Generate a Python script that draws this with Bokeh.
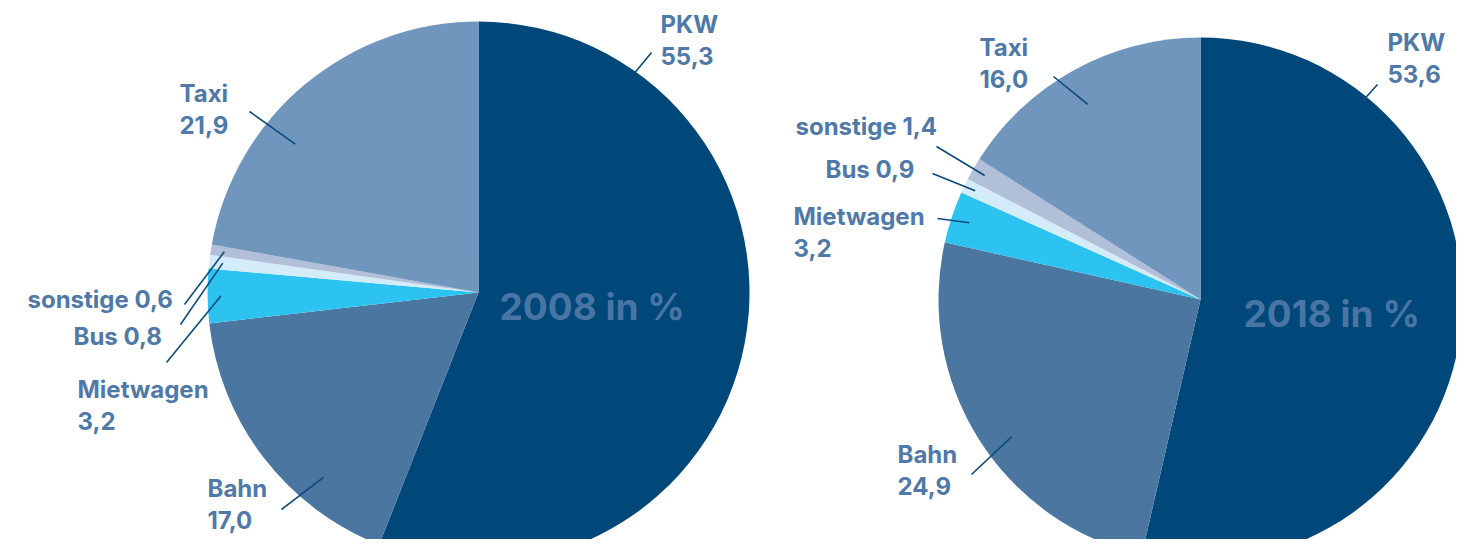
import numpy as np
from bokeh.plotting import figure
from bokeh.models import Range1d, ColumnDataSource
from bokeh.core.properties import value
from bokeh.embed import file_html
from bokeh.resources import INLINE

# ---------------- data ----------------
categories = ["PKW", "Bahn", "Mietwagen", "Bus", "sonstige", "Taxi"]
values_2008 = [55.3, 17.0, 3.2, 0.8, 0.6, 21.9]
values_2018 = [53.6, 24.9, 3.2, 0.9, 1.4, 16.0]
titles = ["2008 in %", "2018 in %"]
colors = ["#00487a", "#4a76a0", "#2dc3f1", "#d4ecf9", "#b2bfd8", "#7096bd"]

# ---------------- layout ----------------
W, H = 1456, 539
IMG_H = 555
LABEL_COLOR = "#4e79a8"
LEADER_COLOR = "#0b4a7c"
FONT = "Inter"
LINE_H = 31
LBL_SIZE = 24
TTL_SIZE = 37
BASE_FIX = 0.36  # renderer places alphabetic baseline lower; compensate (fraction of font size)

def Y(y_img):
    return IMG_H - y_img

pies = [
    dict(values=values_2008, cx=478, cy=292, r=271, title=titles[0], title_pos=(499, 319),
         labels={
             "PKW":       dict(pos=(660, 33), two=True, outer=(651, 52), ang=35, frac=0.9),
             "Taxi":      dict(pos=(179, 102), two=True, outer=(249, 111), ang=309, frac=0.87),
             "sonstige":  dict(pos=(27, 308), two=False, outer=(184, 304), ang=None, frac=0.95),
             "Bus":       dict(pos=(73, 345), two=False, outer=(180, 324), ang=None, frac=0.95),
             "Mietwagen": dict(pos=(77, 398), two=True, outer=(166, 362), ang=None, frac=0.95),
             "Bahn":      dict(pos=(207, 497), two=True, outer=(281, 509), ang=220, frac=0.89),
         }),
    dict(values=values_2018, cx=1200, cy=299, r=262, title=titles[1], title_pos=(1243, 326),
         labels={
             "PKW":       dict(pos=(1387, 51), two=True, outer=(1377, 84), ang=39, frac=0.9),
             "Taxi":      dict(pos=(979, 56), two=True, outer=(1053, 76), ang=330, frac=0.86),
             "sonstige":  dict(pos=(795, 135), two=False, outer=(936, 146), ang=None, frac=0.95),
             "Bus":       dict(pos=(825, 178), two=False, outer=(932, 173), ang=None, frac=0.955),
             "Mietwagen": dict(pos=(793, 225), two=True, outer=(937, 218), ang=None, frac=0.93),
             "Bahn":      dict(pos=(897, 463), two=True, outer=(971, 474), ang=234, frac=0.89),
         }),
]

p = figure(width=W, height=H, x_range=Range1d(0, W), y_range=Range1d(IMG_H - H, IMG_H),
           output_backend="svg", toolbar_location=None, min_border=0)
p.axis.visible = False
p.grid.visible = False
p.outline_line_color = None
p.background_fill_color = "white"
p.border_fill_color = "white"

def fmt(v):
    return f"{v:.1f}".replace(".", ",")

for pie in pies:
    vals = np.array(pie["values"], dtype=float)
    frac = vals / vals.sum()
    cum = np.concatenate([[0.0], np.cumsum(frac)])
    th0 = cum[:-1] * 2 * np.pi  # clockwise from top
    th1 = cum[1:] * 2 * np.pi
    cx, cy_d, r = pie["cx"], Y(pie["cy"]), pie["r"]
    src = ColumnDataSource(dict(
        x=[cx] * len(vals), y=[cy_d] * len(vals),
        start=list(np.pi / 2 - th0), end=list(np.pi / 2 - th1),
        color=colors, cat=categories))
    p.wedge(x="x", y="y", radius=r, start_angle="start", end_angle="end",
            direction="clock", fill_color="color", line_color=None, source=src)

    # title inside pie
    tx, ty = pie["title_pos"]
    p.text(x=[tx], y=[Y(ty - BASE_FIX * TTL_SIZE)], text=[pie["title"]], text_align="left",
           text_baseline="alphabetic", text_font=value(FONT), text_font_style="bold",
           text_font_size=f"{TTL_SIZE}px", text_color=LABEL_COLOR, text_alpha=0.95)

    # labels + leaders
    lx, ly, lt = [], [], []
    x0, y0, x1, y1 = [], [], [], []
    for i, cat in enumerate(categories):
        spec = pie["labels"][cat]
        px, py = spec["pos"]
        py = py - BASE_FIX * LBL_SIZE
        v = fmt(vals[i])
        if spec["two"]:
            lx += [px, px]; ly += [Y(py), Y(py + LINE_H)]; lt += [cat, v]
        else:
            lx += [px]; ly += [Y(py)]; lt += [f"{cat} {v}"]
        ang = np.deg2rad(spec["ang"]) if spec["ang"] is not None else (th0[i] + th1[i]) / 2
        rr = r * spec["frac"]
        ix, iy = cx + rr * np.sin(ang), cy_d + rr * np.cos(ang)
        ox, oy = spec["outer"]
        x0.append(ox); y0.append(Y(oy)); x1.append(ix); y1.append(iy)
    p.segment(x0=x0, y0=y0, x1=x1, y1=y1, line_color=LEADER_COLOR, line_width=1.6)
    p.text(x=lx, y=ly, text=lt, text_align="left", text_baseline="alphabetic",
           text_font=value(FONT), text_font_style="bold", text_font_size=f"{LBL_SIZE}px",
           text_color=LABEL_COLOR)

open("out.html", "w").write(file_html(p, INLINE))
